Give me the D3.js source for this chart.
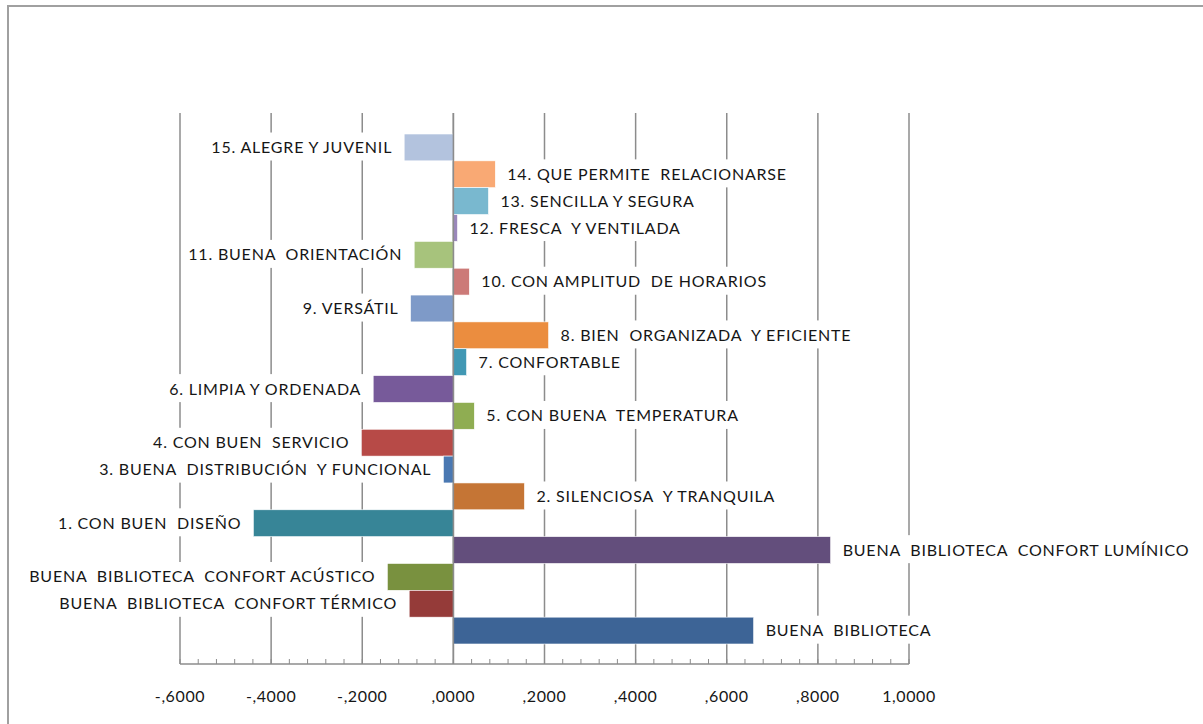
<!DOCTYPE html>
<html>
<head>
<meta charset="utf-8">
<script src="https://cdn.jsdelivr.net/npm/d3@7/dist/d3.min.js"></script>
<style>
  html, body { margin: 0; padding: 0; background: #fff; }
  svg { display: block; }
  text { font-family: Lato, "Open Sans", sans-serif; fill: #161616; }
</style>
</head>
<body>
<svg id="chart" width="1203" height="724"></svg>
<script>
// Categories, top to bottom
const categories = [
  "15. ALEGRE Y JUVENIL",
  "14. QUE PERMITE  RELACIONARSE",
  "13. SENCILLA Y SEGURA",
  "12. FRESCA  Y VENTILADA",
  "11. BUENA  ORIENTACIÓN",
  "10. CON AMPLITUD  DE HORARIOS",
  "9. VERSÁTIL",
  "8. BIEN  ORGANIZADA  Y EFICIENTE",
  "7. CONFORTABLE",
  "6. LIMPIA Y ORDENADA",
  "5. CON BUENA  TEMPERATURA",
  "4. CON BUEN  SERVICIO",
  "3. BUENA  DISTRIBUCIÓN  Y FUNCIONAL",
  "2. SILENCIOSA  Y TRANQUILA",
  "1. CON BUEN  DISEÑO",
  "BUENA  BIBLIOTECA  CONFORT LUMÍNICO",
  "BUENA  BIBLIOTECA  CONFORT ACÚSTICO",
  "BUENA  BIBLIOTECA  CONFORT TÉRMICO",
  "BUENA  BIBLIOTECA"
];

// Coefficient per category
const values = [
  -0.108, 0.092, 0.077, 0.009, -0.086, 0.035, -0.094, 0.209, 0.029, -0.176,
  0.046, -0.202, -0.022, 0.156, -0.439, 0.828, -0.145, -0.097, 0.659
];

const barColors = [
  "#b3c3de", "#f9a974", "#79b8cf", "#9a87bb", "#a7c37c", "#cc7a78", "#7e9ac8",
  "#eb8d3f", "#4198b4", "#775a9a", "#8fad52", "#b74a47", "#4a78b2", "#c57535",
  "#378597", "#634e7c", "#79913f", "#953b39", "#3d6496"
];

const xTicks = [-0.6, -0.4, -0.2, 0, 0.2, 0.4, 0.6, 0.8, 1.0];

const svg = d3.select("#chart");

// Outer chart frame (top and left edges visible)
svg.append("path")
  .attr("d", "M8,1000 V6 H1300")
  .attr("fill", "none")
  .attr("stroke", "#a0a0a0")
  .attr("stroke-width", 2);

const plotTop = 113, plotBottom = 664;

const x = d3.scaleLinear().domain([-0.6, 1.0]).range([180, 909]);
const y = d3.scaleBand().domain(categories).range([134, 644]).padding(0);

// Tick format: no leading zero, comma decimal, four decimals
const fmt = v => {
  const s = Math.abs(v).toFixed(4).replace(".", ",");
  const t = s.startsWith("0") ? s.slice(1) : s;
  return (v < 0 ? "-" : "") + t;
};

// Vertical gridlines
svg.append("g")
  .selectAll("line")
  .data(xTicks)
  .join("line")
  .attr("x1", d => x(d)).attr("x2", d => x(d))
  .attr("y1", plotTop).attr("y2", plotBottom)
  .attr("stroke", "#8c8c8c")
  .attr("stroke-width", 1.5);

// Bottom axis with minor ticks
const axisG = svg.append("g").attr("transform", `translate(0,${plotBottom})`);
const minor = d3.range(-0.6, 1.0001, 0.04);
axisG.append("line")
  .attr("x1", x(-0.6)).attr("x2", x(1.0))
  .attr("stroke", "#8c8c8c").attr("stroke-width", 1.5);
axisG.selectAll("line.minor")
  .data(minor)
  .join("line")
  .attr("class", "minor")
  .attr("x1", d => x(d)).attr("x2", d => x(d))
  .attr("y1", 0).attr("y2", -5)
  .attr("stroke", "#8c8c8c").attr("stroke-width", 1);
axisG.selectAll("text")
  .data(xTicks)
  .join("text")
  .attr("x", d => x(d))
  .attr("y", 38)
  .attr("text-anchor", "middle")
  .attr("font-size", 16)
  .attr("letter-spacing", 0.6)
  .text(d => fmt(d));

const rows = categories.map((c, i) => ({ c, v: values[i], col: barColors[i] }));
const gap = 12;

// Layers: label backgrounds, bars, zero line, label text
const bgG = svg.append("g");
const barG = svg.append("g");
const zeroG = svg.append("g");
const txtG = svg.append("g");

const texts = txtG.selectAll("text")
  .data(rows)
  .join("text")
  .attr("x", d => d.v < 0 ? x(d.v) - gap : x(d.v) + gap)
  .attr("y", d => y(d.c) + y.bandwidth() / 2)
  .attr("dy", "0.35em")
  .attr("text-anchor", d => d.v < 0 ? "end" : "start")
  .attr("font-size", 16)
  .attr("letter-spacing", 0.8)
  .style("white-space", "pre")
  .text(d => d.c);

texts.each(function() {
  const b = this.getBBox();
  bgG.append("rect")
    .attr("x", b.x - 5).attr("y", b.y + b.height / 2 - 14)
    .attr("width", b.width + 10).attr("height", 28)
    .attr("fill", "#fff");
});

// Bars
barG.selectAll("rect")
  .data(rows)
  .join("rect")
  .attr("x", d => x(Math.min(0, d.v)))
  .attr("y", d => y(d.c))
  .attr("width", d => Math.abs(x(d.v) - x(0)))
  .attr("height", y.bandwidth())
  .attr("fill", d => d.col)
  .attr("stroke", "#fff")
  .attr("stroke-width", 0.6);

zeroG.append("line")
  .attr("x1", x(0)).attr("x2", x(0))
  .attr("y1", plotTop).attr("y2", plotBottom)
  .attr("stroke", "#8c8c8c").attr("stroke-width", 1.5);
</script>
</body>
</html>
